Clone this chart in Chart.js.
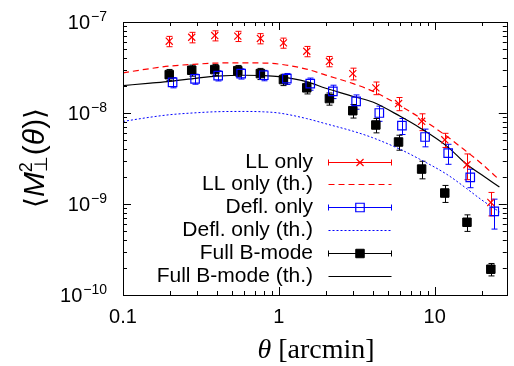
<!DOCTYPE html>
<html lang="en">
<head>
<meta charset="UTF-8">
<title>M_perp aperture statistics</title>
<script src="https://cdn.jsdelivr.net/npm/chart.js"></script>
<style>
  html, body { margin: 0; padding: 0; background: #ffffff; }
  #wrap { width: 514px; height: 366px; }
</style>
</head>
<body>
<div id="wrap"><canvas id="chart" width="514" height="366"></canvas></div>
<script>
// theta [arcmin] of the measured points
const thetaPts = [0.198, 0.276, 0.388, 0.545, 0.761, 1.07, 1.51, 2.11, 2.98, 4.19, 5.86, 8.24, 11.6, 16.1, 22.9];
// the "Defl. only" points are plotted slightly shifted to the right
const thetaDefl = [0.208, 0.290, 0.408, 0.573, 0.800, 1.125, 1.59, 2.22, 3.13, 4.41, 6.16, 8.67, 12.2, 16.9, 24.1];
// theta [arcmin] where the theory curves are read
const thetaTh = [0.1, 0.15, 0.2, 0.3, 0.4, 0.6, 0.8, 1, 1.5, 2, 3, 4, 6, 8, 12, 16, 20, 26];

// LL only (measured)
const llVals = [6.15e-8, 6.8e-8, 7.1e-8, 7.0e-8, 6.6e-8, 5.9e-8, 4.77e-8, 3.7e-8, 2.71e-8, 1.89e-8, 1.27e-8, 8.1e-9, 5.08e-9, 2.7e-9, 1.04e-9];
const llErr  = [0.8e-8, 0.9e-8, 0.9e-8, 0.9e-8, 0.85e-8, 0.75e-8, 0.62e-8, 0.48e-8, 0.4e-8, 0.3e-8, 0.21e-8, 1.7e-9, 0.9e-9, 0.85e-9, 0.3e-9];
// Defl. only (measured)
const deflVals = [2.17e-8, 2.37e-8, 2.58e-8, 2.71e-8, 2.6e-8, 2.39e-8, 2.1e-8, 1.73e-8, 1.34e-8, 1.0e-8, 7.25e-9, 5.45e-9, 3.63e-9, 1.96e-9, 8.3e-10];
const deflErr  = [0.28e-8, 0.3e-8, 0.33e-8, 0.35e-8, 0.34e-8, 0.33e-8, 0.32e-8, 0.29e-8, 0.24e-8, 0.19e-8, 1.45e-9, 1.2e-9, 0.9e-9, 0.45e-9, 3.0e-10];
// Full B-mode (measured)
const fullVals = [2.64e-8, 2.95e-8, 3.0e-8, 2.92e-8, 2.71e-8, 2.33e-8, 1.89e-8, 1.44e-8, 1.06e-8, 7.38e-9, 4.8e-9, 2.42e-9, 1.32e-9, 6.3e-10, 1.92e-10];
const fullErr  = [0.37e-8, 0.41e-8, 0.42e-8, 0.41e-8, 0.38e-8, 0.33e-8, 0.27e-8, 0.22e-8, 0.18e-8, 1.33e-9, 0.9e-9, 0.53e-9, 0.28e-9, 1.3e-10, 0.3e-10];

// theory curves
const llTh   = [2.76e-8, 3.08e-8, 3.28e-8, 3.45e-8, 3.54e-8, 3.56e-8, 3.54e-8, 3.45e-8, 3.04e-8, 2.61e-8, 2.1e-8, 1.74e-8, 1.2e-8, 8.9e-9, 5.52e-9, 3.77e-9, 2.77e-9, 1.84e-9];
const deflTh = [8.08e-9, 9.0e-9, 9.58e-9, 1.008e-8, 1.033e-8, 1.04e-8, 1.03e-8, 1.0e-8, 8.7e-9, 7.62e-9, 6.3e-9, 5.35e-9, 3.99e-9, 3.11e-9, 2.11e-9, 1.48e-9, 1.11e-9, 8.2e-10];
const fullTh = [2.0e-8, 2.13e-8, 2.23e-8, 2.42e-8, 2.54e-8, 2.6e-8, 2.58e-8, 2.51e-8, 2.21e-8, 1.87e-8, 1.52e-8, 1.32e-8, 9.2e-9, 6.9e-9, 4.3e-9, 2.73e-9, 2.09e-9, 1.54e-9];

const seriesNames = ['LL only', 'LL only (th.)', 'Defl. only', 'Defl. only (th.)', 'Full B-mode', 'Full B-mode (th.)'];
const xTicks = [0.1, 1, 10];
const xTickLabels = ['0.1', '1', '10'];
const yTickExps = [-7, -8, -9, -10];

const RED = '#ff0000', BLUE = '#0000ff', BLACK = '#000000';
const SANS = '"Liberation Sans", Arial, sans-serif';
const SERIF = '"Liberation Serif", "Times New Roman", serif';

function pts(xs, ys) { return xs.map((x, i) => ({ x: x, y: ys[i] })); }

// error bars drawn from the scales, under the markers
const errorBars = {
  id: 'errorBars',
  beforeDatasetsDraw(chart) {
    const { ctx, scales: { x, y } } = chart;
    chart.data.datasets.forEach(ds => {
      if (!ds.errors) return;
      ctx.save();
      ctx.strokeStyle = ds.borderColor;
      ctx.lineWidth = 1;
      ds.data.forEach((p, j) => {
        const px = Math.round(x.getPixelForValue(p.x)) + 0.5;
        const top = y.getPixelForValue(p.y + ds.errors[j]);
        const bot = y.getPixelForValue(p.y - ds.errors[j]);
        ctx.beginPath();
        ctx.moveTo(px, top); ctx.lineTo(px, bot);
        ctx.moveTo(px - 3, top); ctx.lineTo(px + 3, top);
        ctx.moveTo(px - 3, bot); ctx.lineTo(px + 3, bot);
        ctx.stroke();
      });
      ctx.restore();
    });
  }
};

// frame, inward ticks, y labels, axis titles and the key
const decor = {
  id: 'decor',
  afterDraw(chart) {
    const { ctx, chartArea: a, scales: { x, y } } = chart;
    ctx.save();
    ctx.strokeStyle = BLACK;
    ctx.lineWidth = 1;
    ctx.strokeRect(Math.round(a.left) + 0.5, Math.round(a.top) + 0.5, Math.round(a.right - a.left), Math.round(a.bottom - a.top));

    ctx.beginPath();
    // x ticks
    [0.1, 1, 10].forEach(d => {
      for (let m = 1; m <= 9; m++) {
        const v = d * m;
        if (v > x.max) break;
        const px = Math.round(x.getPixelForValue(v)) + 0.5;
        const len = m === 1 ? 8 : 4;
        ctx.moveTo(px, a.bottom); ctx.lineTo(px, a.bottom - len);
        ctx.moveTo(px, a.top); ctx.lineTo(px, a.top + len);
      }
    });
    // y ticks
    [1e-10, 1e-9, 1e-8, 1e-7].forEach(d => {
      for (let m = 1; m <= 9; m++) {
        const v = d * m;
        if (v > y.max * 1.0001) break;
        const py = Math.round(y.getPixelForValue(v)) + 0.5;
        const len = m === 1 ? 8 : 4;
        ctx.moveTo(a.left, py); ctx.lineTo(a.left + len, py);
        ctx.moveTo(a.right, py); ctx.lineTo(a.right - len, py);
      }
    });
    ctx.stroke();

    // y tick labels 10^n
    ctx.fillStyle = BLACK;
    ctx.textBaseline = 'alphabetic';
    yTickExps.forEach(e => {
      const py = y.getPixelForValue(Math.pow(10, e));
      const sup = '\u2212' + Math.abs(e);
      ctx.font = '14px ' + SANS;
      const sw = ctx.measureText(sup).width;
      ctx.textAlign = 'right';
      ctx.fillText(sup, 107, py - 1);
      ctx.font = '20px ' + SANS;
      ctx.fillText('10', 107 - sw - 1, py + 7);
    });

    // x title
    ctx.font = 'italic 28px ' + SERIF;
    const w1 = ctx.measureText('\u03b8').width;
    ctx.font = '28px ' + SERIF;
    const w2 = ctx.measureText(' [arcmin]').width;
    let sx = 316 - (w1 + w2) / 2;
    ctx.textAlign = 'left';
    ctx.font = 'italic 28px ' + SERIF;
    ctx.fillText('\u03b8', sx, 358);
    ctx.font = '28px ' + SERIF;
    ctx.fillText(' [arcmin]', sx + w1, 358);

    // y title <M_perp^2(theta)>
    ctx.save();
    ctx.translate(27, 158);
    ctx.rotate(-Math.PI / 2);
    const big = '30px ' + SANS, bigIt = 'italic 30px ' + SANS, small = '18px ' + SANS;
    const brk = '28px "DejaVu Sans", sans-serif';
    const parts = [
      { t: '\u27e8', f: brk }, { t: 'M', f: bigIt },
      { t: '2', f: small, dy: -12, sub: '\u22a5', subdy: 3 },
      { t: '(', f: big }, { t: '\u03b8', f: bigIt }, { t: ')', f: big }, { t: '\u27e9', f: brk }
    ];
    let total = 0;
    parts.forEach(p => {
      ctx.font = p.f;
      p.w = ctx.measureText(p.t).width;
      if (p.sub) p.w = Math.max(p.w, ctx.measureText(p.sub).width) + 1;
      total += p.w;
    });
    let cx = -total / 2;
    const base = 17;
    parts.forEach(p => {
      ctx.font = p.f;
      ctx.fillText(p.t, cx, base + (p.dy || 0));
      if (p.sub) ctx.fillText(p.sub, cx, base + p.subdy);
      cx += p.w;
    });
    ctx.restore();

    // key
    const rows = seriesNames.map((n, i) => 161.5 + 22.9 * i);
    ctx.font = '21px ' + SANS;
    ctx.textAlign = 'right';
    seriesNames.forEach((n, i) => ctx.fillText(n, 313, rows[i] + 6));
    const x0 = 328.5, x1 = 391.5, xm = 360;
    chart.data.datasets.forEach((ds, i) => {
      const ry = Math.round(rows[i]) + 0.5;
      ctx.save();
      ctx.strokeStyle = ds.borderColor;
      ctx.lineWidth = ds.errors ? 1 : ds.borderWidth;
      ctx.setLineDash(ds.borderDash || []);
      ctx.beginPath();
      ctx.moveTo(x0, ry); ctx.lineTo(x1, ry);
      if (ds.errors) {
        ctx.moveTo(x0, ry - 3); ctx.lineTo(x0, ry + 3);
        ctx.moveTo(x1, ry - 3); ctx.lineTo(x1, ry + 3);
      }
      ctx.stroke();
      ctx.setLineDash([]);
      if (ds.errors) {
        ctx.fillStyle = ds.pointBackgroundColor || '#fff';
        ctx.lineWidth = ds.pointBorderWidth;
        Chart.helpers.drawPoint(ctx, { pointStyle: ds.pointStyle, radius: ds.pointRadius, borderWidth: ds.pointBorderWidth, rotation: 0 }, xm, ry);
      }
      ctx.restore();
    });
    ctx.restore();
  }
};

new Chart(document.getElementById('chart').getContext('2d'), {
  type: 'line',
  data: {
    datasets: [
      { label: seriesNames[0], data: pts(thetaPts, llVals), errors: llErr, showLine: false,
        borderColor: RED, pointStyle: 'crossRot', pointRadius: 5, pointBorderWidth: 1.2, pointBackgroundColor: RED },
      { label: seriesNames[1], data: pts(thetaTh, llTh), borderColor: RED, borderWidth: 1.2,
        borderDash: [6, 4], pointRadius: 0, cubicInterpolationMode: 'monotone' },
      { label: seriesNames[2], data: pts(thetaDefl, deflVals), errors: deflErr, showLine: false,
        borderColor: BLUE, pointStyle: 'rect', pointRadius: 6, pointBorderWidth: 1.2, pointBackgroundColor: 'rgba(0,0,0,0)' },
      { label: seriesNames[3], data: pts(thetaTh, deflTh), borderColor: BLUE, borderWidth: 1,
        borderDash: [2, 2], pointRadius: 0, cubicInterpolationMode: 'monotone' },
      { label: seriesNames[4], data: pts(thetaPts, fullVals), errors: fullErr, showLine: false,
        borderColor: BLACK, pointStyle: 'rect', pointRadius: 6, pointBorderWidth: 1, pointBackgroundColor: BLACK },
      { label: seriesNames[5], data: pts(thetaTh, fullTh), borderColor: BLACK, borderWidth: 1.2,
        pointRadius: 0, cubicInterpolationMode: 'monotone' }
    ]
  },
  options: {
    responsive: false,
    animation: false,
    layout: { padding: { left: 123, right: 1, top: 22, bottom: 27 } },
    plugins: { legend: { display: false }, tooltip: { enabled: false } },
    scales: {
      x: {
        type: 'logarithmic', min: 0.1, max: 29,
        afterBuildTicks: s => { s.ticks = xTicks.map(v => ({ value: v })); },
        ticks: {
          autoSkip: false, maxRotation: 0, padding: 10, color: BLACK,
          font: { size: 20, family: SANS },
          callback: (v, i) => xTickLabels[i]
        },
        grid: { display: false, drawTicks: false },
        border: { display: false }
      },
      y: {
        type: 'logarithmic', min: 1e-10, max: 1e-7,
        afterBuildTicks: s => { s.ticks = yTickExps.map(e => ({ value: Math.pow(10, e) })); },
        ticks: { display: false },
        grid: { display: false, drawTicks: false },
        border: { display: false }
      }
    }
  },
  plugins: [errorBars, decor]
});
</script>
</body>
</html>
